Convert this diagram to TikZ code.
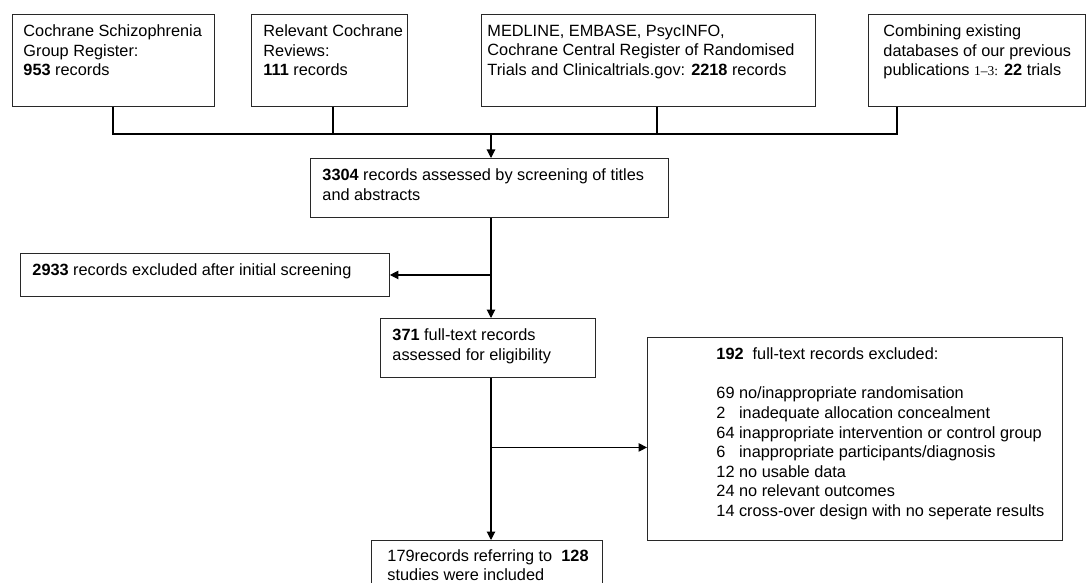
\documentclass[tikz,border=0pt]{standalone}
\usepackage{fontspec}
\setmainfont{Liberation Sans}
\newfontfamily\refsfont{Liberation Serif}
\usetikzlibrary{arrows.meta, calc}
\definecolor{boxline}{RGB}{40, 40, 40}
% box body: width, height, left pad, top pad, text
\newcommand{\cellbody}[5]{%
    \parbox[c][#2pt][t]{#1pt}{\raggedright\leftskip=#3pt\relax\vspace*{#4pt}#5}}
\newcommand{\refnums}[1]{{\refsfont\fontsize{13.5}{15}\selectfont #1}}
\tikzset{
    flowbox/.style={
        draw=boxline, line width=0.9pt, inner sep=0pt, anchor=north west,
        font=\fontsize{16.3}{19.6}\selectfont
    },
    trunk/.style={
        line width=2.2pt, black
    },
    flow/.style={
        -{Triangle[length=8.5pt, width=8.5pt]}, line width=1.1pt, black
    }
}
\begin{document}
\begin{tikzpicture}[x=1pt, y=-1pt]
        \fill[white] (0,0) rectangle (1087,583);
        \useasboundingbox (0,0) rectangle (1087,583);

        % --- SOURCES ---
        \node[flowbox] (src1) at (12,14) {\cellbody{202}{92}{11}{10.5}{Cochrane Schizophrenia\\Group Register:\\\textbf{953} records}};
        \node[flowbox] (src2) at (251,14) {\cellbody{156}{92}{12}{10.5}{Relevant Cochrane\\Reviews:\\\textbf{111} records}};
        \node[flowbox] (src3) at (481,14) {\cellbody{334}{92}{6}{10.5}{MEDLINE, EMBASE, PsycINFO,\\Cochrane Central Register of Randomised\\Trials and Clinicaltrials.gov: \textbf{2218} records}};
        \node[flowbox] (src4) at (868,14) {\cellbody{217}{92}{15}{10.5}{Combining existing\\databases of our previous\\publications \refnums{1\textendash3:} \textbf{22} trials}};

        % --- MERGE OF SOURCES ---
        \coordinate (merge) at (491,134);
        \draw[trunk] ([xshift=101pt]src1.south west) |- (merge);
        \draw[trunk] ([xshift=82pt]src2.south west) |- (merge);
        \draw[trunk] ([xshift=176pt]src3.south west) |- (merge);
        \draw[trunk] ([xshift=29pt]src4.south west) |- (merge);

        % --- SCREENING ---
        \node[flowbox] (screen) at (310,158) {\cellbody{358}{59}{12}{10.5}{\textbf{3304} records assessed by screening of titles\\and abstracts}};
        \node[flowbox] (excl) at (20,253) {\cellbody{369}{43}{12}{10.5}{\textbf{2933} records excluded after initial screening}};
        \node[flowbox] (full) at (380,318) {\cellbody{215}{59}{12}{10.5}{\textbf{371} full-text records\\assessed for eligibility}};
        \node[flowbox] (fullexc) at (647,337) {\cellbody{415}{203}{69}{10.5}{\textbf{192}\ \ full-text records excluded:\\[19.6pt]
            69 no/inappropriate randomisation\\
            2\phantom{0} inadequate allocation concealment\\
            64 inappropriate intervention or control group\\
            6\phantom{0} inappropriate participants/diagnosis\\
            12 no usable data\\
            24 no relevant outcomes\\
            14 cross-over design with no seperate results}};
        \node[flowbox] (incl) at (371,540) {\cellbody{231}{70}{16}{9}{179records referring to\ \ \textbf{128}\\studies were included}};

        % --- ARROWS ---
        \coordinate (exit) at ([yshift=-8.5pt]fullexc.west);
        \draw[flow] (merge) -- (merge |- screen.north);
        \draw[flow] (merge |- screen.south) -- (merge |- full.north);
        \draw[flow] (merge |- excl.east) -- (excl.east);
        \draw[flow] (merge |- full.south) -- (merge |- incl.north);
        \draw[flow] (merge |- exit) -- (exit);

\end{tikzpicture}
\end{document}
